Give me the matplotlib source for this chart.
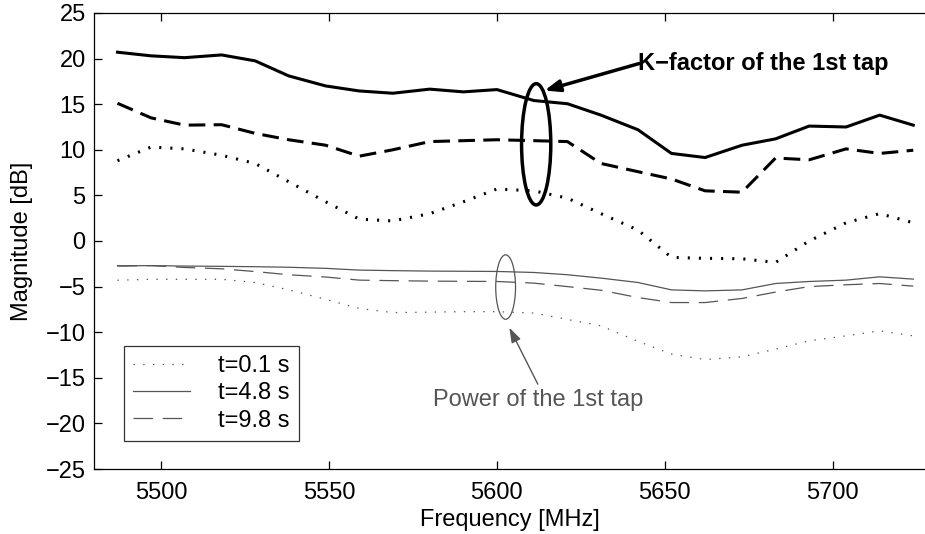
import numpy as np
import matplotlib
matplotlib.use("Agg")
import matplotlib.pyplot as plt
from matplotlib.patches import Ellipse

plt.rcParams['font.family'] = ['Liberation Sans', 'DejaVu Sans']
plt.rcParams['lines.scale_dashes'] = False

# frequency grid [MHz]
freq = [5487, 5497, 5507, 5518, 5528, 5538, 5549, 5559, 5569, 5580, 5590, 5600,
        5611, 5621, 5631, 5642, 5652, 5662, 5673, 5683, 5693, 5704, 5714, 5724]

# K-factor of the 1st tap [dB]
k_t01 = [8.8, 10.3, 10.1, 9.4, 8.5, 6.5, 4.3, 2.4, 2.2, 3.0, 4.3, 5.7,
         5.5, 4.7, 3.0, 1.2, -1.8, -1.9, -1.95, -2.35, 0.0, 2.0, 3.0, 2.0]
k_t48 = [20.7, 20.3, 20.1, 20.4, 19.75, 18.1, 17.0, 16.45, 16.2, 16.65, 16.35, 16.6,
         15.4, 15.05, 13.8, 12.2, 9.6, 9.15, 10.5, 11.2, 12.6, 12.5, 13.8, 12.7]
k_t98 = [15.1, 13.5, 12.7, 12.75, 11.8, 11.1, 10.5, 9.3, 10.0, 10.9, 11.0, 11.1,
         11.0, 10.9, 8.5, 7.6, 6.8, 5.5, 5.35, 9.1, 8.9, 10.1, 9.6, 9.95]

# Power of the 1st tap [dB]
p_t01 = [-4.3, -4.2, -4.2, -4.2, -4.55, -5.35, -6.4, -7.4, -7.85, -7.8, -7.75, -7.75,
         -7.9, -8.6, -9.3, -11.0, -12.4, -13.0, -12.7, -11.85, -10.95, -10.4, -9.85, -10.4]
p_t48 = [-2.72, -2.7, -2.75, -2.78, -2.82, -2.88, -3.0, -3.19, -3.25, -3.3, -3.32, -3.34,
         -3.45, -3.7, -4.07, -4.55, -5.36, -5.47, -5.36, -4.66, -4.44, -4.29, -3.93, -4.18]
p_t98 = [-2.75, -2.7, -2.9, -3.05, -3.35, -3.7, -3.95, -4.29, -4.35, -4.4, -4.42, -4.44,
         -4.62, -5.0, -5.4, -6.2, -6.75, -6.75, -6.3, -5.6, -5.0, -4.8, -4.66, -4.95]

labels = ['t=0.1 s', 't=4.8 s', 't=9.8 s']

fs = 17
fig = plt.figure(figsize=(9.25, 5.34), dpi=100)
ax = fig.add_axes([0.1016, 0.1217, 0.8984, 0.854])

thin = '#555555'
# thick curves: K-factor
ax.plot(freq, k_t01, color='black', lw=2.2, ls=(0, (1.5, 6.5)))
ax.plot(freq, k_t48, color='black', lw=2.2, ls='-')
ax.plot(freq, k_t98, color='black', lw=2.2, ls=(0, (12, 6)))
# thin curves: power
l1, = ax.plot(freq, p_t01, color=thin, lw=0.9, ls=(0, (1, 6)))
l2, = ax.plot(freq, p_t48, color=thin, lw=0.9, ls='-')
l3, = ax.plot(freq, p_t98, color=thin, lw=0.9, ls=(0, (14, 7)))

leg = ax.legend([l1, l2, l3], labels, loc='lower left', bbox_to_anchor=(0.036, 0.0614),
                fontsize=fs, frameon=True, fancybox=False, edgecolor='black',
                handlelength=2.4, handletextpad=1.2, borderpad=0.4, labelspacing=0.22,
                borderaxespad=0)
leg.get_frame().set_linewidth(0.9)

# annotations
ax.add_patch(Ellipse((5611.7, 10.6), 8.7, 13.3, fill=False, lw=2.5, ec='black'))
ax.text(5642.0, 19.45, 'K\u2212factor of the 1st tap', fontsize=fs, fontweight='bold',
        va='center', ha='left')
ax.annotate('', xy=(5614.2, 16.5), xytext=(5642.3, 19.45),
            arrowprops=dict(arrowstyle='-|>,head_length=0.9,head_width=0.35',
                            color='black', lw=2.5, shrinkA=0, shrinkB=0))
ax.add_patch(Ellipse((5602.6, -5.05), 5.9, 7.07, fill=False, lw=0.9, ec=thin))
ax.text(5612.2, -17.4, 'Power of the 1st tap', fontsize=fs, color=thin,
        va='center', ha='center')
ax.annotate('', xy=(5603.7, -9.5), xytext=(5612.2, -15.7),
            arrowprops=dict(arrowstyle='-|>,head_length=0.9,head_width=0.3',
                            color=thin, lw=1, shrinkA=0, shrinkB=0))

ax.set_xlim(5480, 5727.5)
ax.set_ylim(-25, 25)
ax.set_xticks([5500, 5550, 5600, 5650, 5700])
ax.set_yticks(np.arange(-25, 26, 5))
ax.tick_params(direction='in', length=6, width=0.9, top=True, right=False,
               labelsize=fs, pad=6)
ax.tick_params(axis='x', pad=9)
ax.spines['right'].set_visible(False)
for s in ['left', 'top', 'bottom']:
    ax.spines[s].set_linewidth(0.9)
ax.set_xlabel('Frequency [MHz]', fontsize=fs, labelpad=4)
ax.set_ylabel('Magnitude [dB]', fontsize=fs, labelpad=9)

fig.savefig('out.png', dpi=100)
